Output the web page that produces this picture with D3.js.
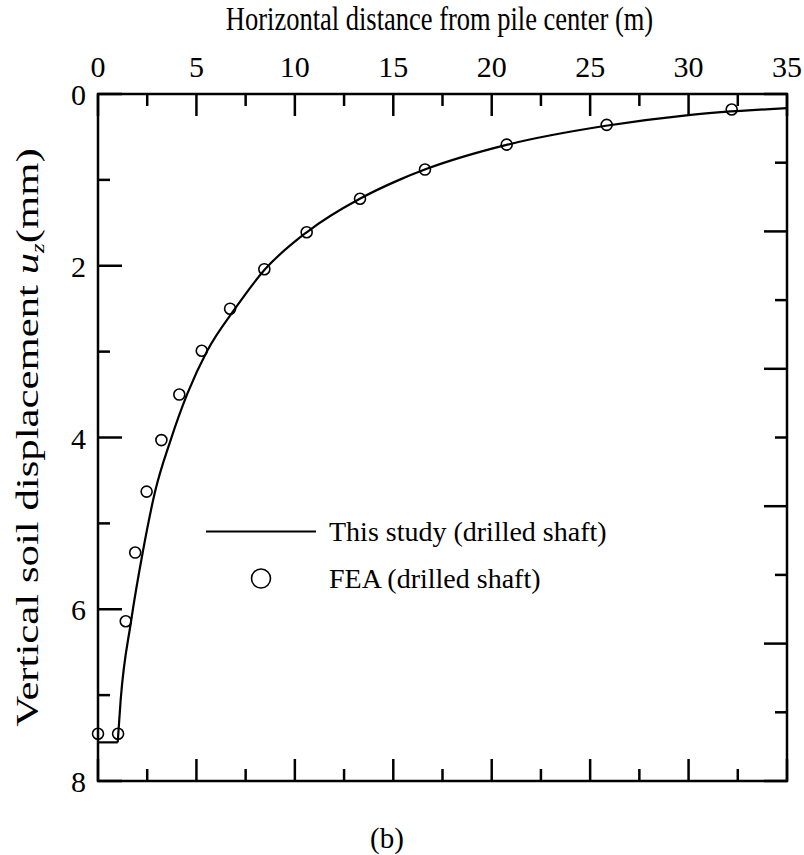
<!DOCTYPE html>
<html>
<head>
<meta charset="utf-8">
<script src="https://cdn.jsdelivr.net/npm/d3@7"></script>
<style>
  body { margin: 0; background: #fff; }
</style>
</head>
<body>
<svg width="804" height="855" font-family="'Liberation Serif', 'Times New Roman', Times, serif"></svg>
<script>
var svg = d3.select("svg"),
    width = +svg.attr("width"),
    height = +svg.attr("height");

// Analytical curve (this study), r in m, uz in mm
var curveR  = [1.0, 1.15, 1.68, 2.27, 2.9, 3.69, 4.54, 5.55, 6.96, 8.45, 10.6, 13.3, 15.3, 16.6, 20.8, 25.8, 30, 35];
var curveUz = [7.55, 7.06, 6.14, 5.34, 4.63, 4.03, 3.49, 2.99, 2.5, 2.05, 1.61, 1.22, 1.0, 0.88, 0.59, 0.37, 0.245, 0.165];

// Pile shaft segment (r from 0 to pile radius)
var pileR  = [0, 1.0];
var pileUz = [7.55, 7.55];

// Finite element results
var feaR  = [0, 1.02, 1.41, 1.89, 2.47, 3.22, 4.13, 5.27, 6.71, 8.45, 10.6, 13.31, 16.61, 20.76, 25.84, 32.19];
var feaUz = [7.45, 7.45, 6.14, 5.34, 4.63, 4.03, 3.5, 2.99, 2.5, 2.04, 1.61, 1.22, 0.88, 0.59, 0.36, 0.18];

var xTicks = [0, 5, 10, 15, 20, 25, 30, 35];
var yTicks = [0, 2, 4, 6, 8];

// plot frame edges
var pLeft = 98, pRight = 787, pTop = 94, pBottom = 781;

var x = d3.scaleLinear().domain([0, 35]).range([pLeft, pRight]);
var y = d3.scaleLinear().domain([0, 8]).range([pTop, pBottom]);
// right-hand frame is divided into ten equal parts
var yR = d3.scaleLinear().domain([0, 10]).range([pTop, pBottom]);

var frame = svg.append("g");

// tick marks, all pointing into the plot
function ticks(g, vals, pos, len, side) {
  g.append("g").selectAll("line").data(vals).enter().append("line")
    .attr("stroke", "#000").attr("stroke-width", 2.5)
    .each(function(d) {
      var el = d3.select(this), p = pos(d), l = len(d);
      if (side == "top") el.attr("x1", p).attr("x2", p).attr("y1", pTop).attr("y2", pTop + l);
      if (side == "bottom") el.attr("x1", p).attr("x2", p).attr("y1", pBottom).attr("y2", pBottom - l);
      if (side == "left") el.attr("y1", p).attr("y2", p).attr("x1", pLeft).attr("x2", pLeft + l);
      if (side == "right") el.attr("y1", p).attr("y2", p).attr("x1", pRight).attr("x2", pRight - l);
    });
}

var xt = d3.range(0, 35.01, 2.5);
var xLen = function(d) { return d % 5 == 0 ? 22 : 12; };
ticks(frame, xt, x, xLen, "top");
ticks(frame, xt, x, xLen, "bottom");
ticks(frame, d3.range(0, 9), y, function(d) { return d % 2 == 0 ? 24 : 12; }, "left");
ticks(frame, d3.range(0, 11), yR, function(d) { return d % 2 == 0 ? 23 : 12; }, "right");

frame.append("rect")
  .attr("x", pLeft).attr("y", pTop)
  .attr("width", pRight - pLeft).attr("height", pBottom - pTop)
  .attr("fill", "none").attr("stroke", "#000").attr("stroke-width", 2.5);

// tick labels
svg.append("g").selectAll("text").data(xTicks).enter().append("text")
  .attr("x", function(d) { return x(d); })
  .attr("y", 77)
  .attr("text-anchor", "middle")
  .attr("font-size", 30)
  .text(function(d) { return d; });

svg.append("g").selectAll("text").data(yTicks).enter().append("text")
  .attr("x", 86)
  .attr("y", function(d) { return y(d) + 11; })
  .attr("text-anchor", "end")
  .attr("font-size", 30)
  .text(function(d) { return d; });

// axis titles (glyphs drawn a little taller than wide)
svg.append("text")
  .attr("transform", "translate(" + ((pLeft + pRight) / 2 - 3) + ",30) scale(1,1.25)")
  .attr("text-anchor", "middle").attr("font-size", 26.5)
  .text("Horizontal distance from pile center (m)");

var ylab = svg.append("text")
  .attr("transform", "translate(38," + ((pTop + pBottom) / 2) + ") rotate(-90) scale(1.38,1)")
  .attr("text-anchor", "middle").attr("font-size", 31);
ylab.append("tspan").text("Vertical soil displacement ");
ylab.append("tspan").attr("font-style", "italic").text("u");
ylab.append("tspan").attr("font-style", "italic").attr("font-size", 18).attr("dy", 6).text("z");
ylab.append("tspan").attr("dy", -6).text("(mm)");

svg.append("text")
  .attr("x", 387).attr("y", 848)
  .attr("text-anchor", "middle").attr("font-size", 29)
  .text("(b)");

// curves
var line = d3.line()
  .x(function(d) { return x(d[0]); })
  .y(function(d) { return y(d[1]); });

svg.append("path")
  .datum(d3.zip(pileR, pileUz))
  .attr("d", line)
  .attr("fill", "none").attr("stroke", "#000").attr("stroke-width", 2.2);

svg.append("path")
  .datum(d3.zip(curveR, curveUz))
  .attr("d", line.curve(d3.curveMonotoneX))
  .attr("fill", "none").attr("stroke", "#000").attr("stroke-width", 2.2);

svg.append("g").selectAll("circle").data(d3.zip(feaR, feaUz)).enter().append("circle")
  .attr("cx", function(d) { return x(d[0]); })
  .attr("cy", function(d) { return y(d[1]); })
  .attr("r", 5.5)
  .attr("fill", "none").attr("stroke", "#000").attr("stroke-width", 1.6);

// legend
var legend = svg.append("g");
legend.append("line")
  .attr("x1", 206).attr("x2", 316).attr("y1", 531.5).attr("y2", 531.5)
  .attr("stroke", "#000").attr("stroke-width", 2.2);
legend.append("text")
  .attr("x", 329).attr("y", 541).attr("font-size", 28)
  .text("This study (drilled shaft)");
legend.append("circle")
  .attr("cx", 261).attr("cy", 578.5).attr("r", 9.5)
  .attr("fill", "none").attr("stroke", "#000").attr("stroke-width", 1.6);
legend.append("text")
  .attr("x", 329).attr("y", 588).attr("font-size", 28)
  .text("FEA (drilled shaft)");
</script>
</body>
</html>
